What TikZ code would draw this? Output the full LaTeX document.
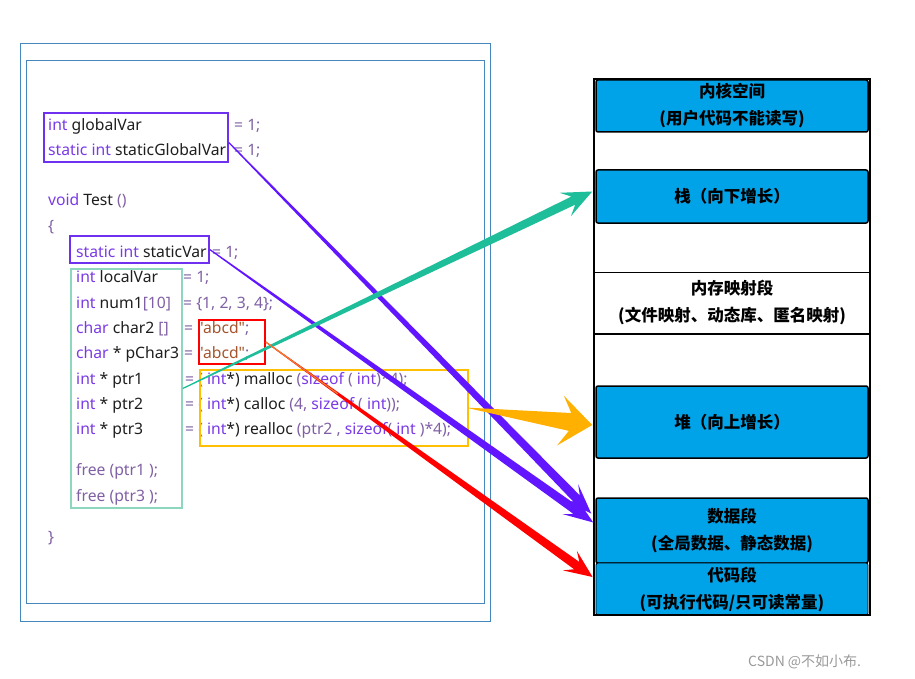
\documentclass[tikz,border=0pt]{standalone}
\usepackage{fontspec}
\setmainfont{Noto Sans}[Ligatures=TeXOff]
\newfontfamily\cjk{Noto Sans CJK SC}
\usetikzlibrary{calc}

\definecolor{kwcol}{RGB}{122,58,230}
\definecolor{pncol}{RGB}{128,96,165}
\definecolor{idcol}{RGB}{30,30,30}
\definecolor{strcol}{RGB}{165,85,45}
\definecolor{framecol}{RGB}{70,135,190}
\definecolor{boxpurple}{RGB}{112,48,240}
\definecolor{arrowpurple}{RGB}{98,22,255}
\definecolor{mint}{RGB}{140,215,190}
\definecolor{teal}{RGB}{30,190,155}
\definecolor{gold}{RGB}{255,192,0}
\definecolor{amber}{RGB}{255,176,0}
\definecolor{segblue}{RGB}{0,162,232}
\definecolor{redline}{RGB}{237,125,49}

\newcommand{\kwd}[1]{\textcolor{kwcol}{#1}}
\newcommand{\pun}[1]{\textcolor{pncol}{#1}}
\newcommand{\lit}[1]{\textcolor{strcol}{"#1"}}

% tapered arrow: color, start, tip, start half width, shaft half width, head length, head half width
\newcommand{\flow}[7]{%
  \coordinate (fl-w) at ($(#3)!#6!(#2)$);
  \coordinate (fl-n) at ($(#3)!#6*0.7!(#2)$);
  \fill[#1] ($(#2)!#4!90:(#3)$) -- ($(fl-n)!#5!-90:(#2)$) -- ($(fl-w)!#7!-90:(#2)$)
    -- (#3) -- ($(fl-w)!#7!90:(#2)$) -- ($(fl-n)!#5!90:(#2)$) -- ($(#2)!#4!-90:(#3)$) -- cycle;
}

\begin{document}
\begin{tikzpicture}[x=1pt, y=-1pt,
  code/.style={anchor=base west, inner sep=0pt, text=idcol, font=\fontsize{15.7}{18}\selectfont},
  markbox/.style={draw=#1, line width=1.5pt, inner sep=0pt},
  seg/.style={draw=black, line width=1.5pt, fill=segblue, rounded corners=2pt, minimum width=272,
    align=center, font=\cjk\bfseries\fontsize{16.5}{27}\selectfont},
  frame/.style={draw=framecol, line width=1pt, inner sep=0pt}]
  \useasboundingbox (0,0) rectangle (915,679);

  % Source frame
  \node[frame, minimum width=470, minimum height=577] (outerframe) at (255,332.5) {};
  \node[frame, minimum width=458, minimum height=542] (innerframe) at (255,332) {};

  % Globals
  \node[code] (gvar) at (48,131) {\kwd{int} globalVar};
  \node[code] (gvarrhs) at (234,131) {\pun{= 1;}};
  \node[code] (sgvar) at (48,156) {\kwd{static int} staticGlobalVar};
  \node[code] (sgvarrhs) at (234,156) {\pun{= 1;}};

  % Function body
  \node[code] (testfn) at (48,206) {\kwd{void} Test \pun{()}};
  \node[code] (lbrace) at (48,231) {\pun{\{}};
  \node[code] (svar) at (76,257) {\kwd{static int} staticVar};
  \node[code] (svarrhs) at (212,257) {\pun{= 1;}};
  \node[code] (lvar) at (76,282) {\kwd{int} localVar};
  \node[code] (lvarrhs) at (183,282) {\pun{= 1;}};
  \node[code] (num) at (76,308) {\kwd{int} num1\pun{[10]}};
  \node[code] (numrhs) at (183,308) {\pun{= \{1, 2, 3, 4\};}};
  \node[code] (chtwo) at (76,333) {\kwd{char} char2 \pun{[]}};
  \node[code] (chtworhs) at (184,333) {\pun{=} \lit{abcd}\pun{;}};
  \node[code] (pchar) at (76,358) {\kwd{char} * pChar3};
  \node[code] (pcharrhs) at (184,358) {\pun{=} \lit{abcd}\pun{;}};
  \node[code] (pone) at (76,384) {\kwd{int} * ptr1};
  \node[code] (ponerhs) at (185,384) {\pun{= (} \kwd{int}*) malloc \pun{(}\kwd{sizeof} \pun{(} \kwd{int}\pun{)*4);}};
  \node[code] (ptwo) at (76,409) {\kwd{int} * ptr2};
  \node[code] (ptworhs) at (185,409) {\pun{= (} \kwd{int}*) calloc \pun{(4,} \kwd{sizeof} \pun{(} \kwd{int}\pun{));}};
  \node[code] (pthree) at (76,434) {\kwd{int} * ptr3};
  \node[code] (pthreerhs) at (185,434) {\pun{= (} \kwd{int}*) realloc \pun{(ptr2 ,} \kwd{sizeof}\pun{(} \kwd{int} \pun{)*4);}};
  \node[code] (freeone) at (76,475) {\pun{free (ptr1 );}};
  \node[code] (freethree) at (76,501) {\pun{free (ptr3 );}};
  \node[code] (rbrace) at (48,542) {\pun{\}}};

  % Marker boxes
  \node[markbox=boxpurple, minimum width=184, minimum height=49] (globbox) at (136,137.5) {};
  \node[markbox=boxpurple, minimum width=139, minimum height=27] (svarbox) at (139.5,249.5) {};
  \node[markbox=mint, minimum width=111, minimum height=239] (localbox) at (126.5,388.5) {};
  \node[markbox=red, minimum width=66, minimum height=44] (strbox) at (232,342) {};
  \node[markbox=gold, minimum width=268, minimum height=76] (allocbox) at (334,408) {};

  % Memory layout
  \node[seg, minimum height=52] (kernel) at (732,106) {内核空间\\(用户代码不能读写)};
  \node[seg, minimum height=53] (stack) at (732,196.5) {栈（向下增长）};
  \node[seg, fill=white, draw=none, minimum height=60] (mmap) at (732,303) {内存映射段\\(文件映射、动态库、匿名映射)};
  \draw[line width=1.5pt] (mmap.north west) -- (mmap.north east);
  \draw[line width=1.5pt] (mmap.south west) -- (mmap.south east);
  \node[seg, minimum height=72] (heap) at (732,422) {堆（向上增长）};
  \node[seg, minimum height=65] (data) at (732,530.5) {数据段\\(全局数据、静态数据)};
  \node[seg, line width=0.8pt, minimum height=52] (code) at (732,589) {代码段\\(可执行代码/只可读常量)};
  \node[draw, line width=2.5pt, minimum width=276, minimum height=536, inner sep=0pt] (memory) at (732,347) {};

  % Arrows
  \coordinate (gstart) at ($(globbox.east)+(0,5)$);
  \coordinate (gtip) at ($(data.west)+(-4,-17)$);
  \coordinate (stip) at ($(data.west)+(-2,-8)$);
  \coordinate (ttip) at ($(stack.west)+(-3,-5)$);
  \coordinate (htip) at ($(heap.west)+(-3,3)$);
  \coordinate (ctip) at ($(code.west)+(-3,-12)$);
  \flow{arrowpurple}{gstart}{gtip}{0.6pt}{4.5pt}{30pt}{11pt}
  \flow{arrowpurple}{svarbox.east}{stip}{0.6pt}{4.5pt}{30pt}{11pt}
  \flow{teal}{localbox.east}{ttip}{0.6pt}{4.5pt}{30pt}{13pt}
  \flow{amber}{allocbox.east}{htip}{0.3pt}{9pt}{32pt}{25pt}
  \flow{red}{strbox.east}{ctip}{0.5pt}{4.5pt}{28pt}{12pt}
  \draw[redline, line width=1.2pt] (strbox.east) -- ($(strbox.east)!0.22!(ctip)$);

  % Watermark
  \node[anchor=base west, inner sep=0pt, text=black!40, font=\cjk\fontsize{14}{16}\selectfont] (mark) at (748,666) {CSDN @不如小布.};
\end{tikzpicture}
\end{document}
